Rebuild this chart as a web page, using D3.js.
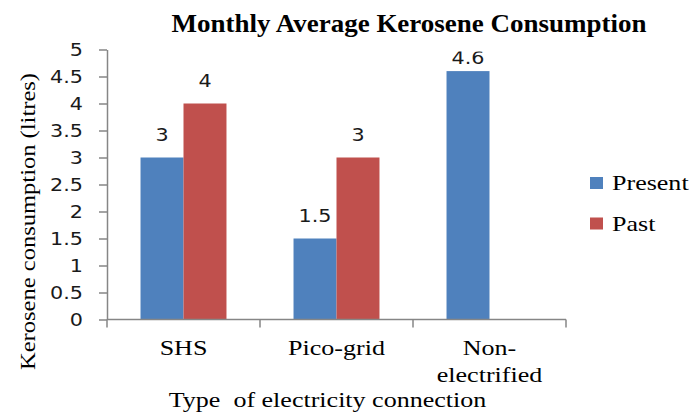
<!DOCTYPE html>
<html lang="en">

<head>
    <meta charset="UTF-8">
    <title>Monthly Average Kerosene Consumption</title>
    <script src="https://d3js.org/d3.v7.min.js"></script>
    <style>
        body {
            margin: 0;
            background: white;
        }
    </style>
</head>

<body>
    <svg width="692" height="414"></svg>

    <script>
        // chart data
        const categories = ["SHS", "Pico-grid", "Non-electrified"];
        const categoryLines = [["SHS"], ["Pico-grid"], ["Non-", "electrified"]];
        const seriesNames = ["Present", "Past"];
        const presentValues = [3, 1.5, 4.6];
        const pastValues = [4, 3, null];
        const yTicks = [0, 0.5, 1, 1.5, 2, 2.5, 3, 3.5, 4, 4.5, 5];
        const colors = ["#4F81BD", "#C0504D"];

        const serifFont = "'Liberation Serif', 'Times New Roman', serif";
        const numFont = "'DejaVu Sans', Verdana, sans-serif";
        // the original picture is a bit wider than the fonts are
        const serifStretch = 1.24, numStretch = 1.15;

        const svg = d3.select("svg");
        const plotLeft = 107, plotRight = 566, plotTop = 49.5, plotBottom = 319.5;

        const x0 = d3.scaleBand().domain(categories).range([plotLeft, plotRight]);
        const x1 = d3.scaleBand().domain(seriesNames)
            .range([0, x0.bandwidth()]).paddingOuter(0.78);
        const y = d3.scaleLinear().domain([0, 5]).range([plotBottom, plotTop]);
        const color = d3.scaleOrdinal().domain(seriesNames).range(colors);

        function place(x, yy, sx) {
            return "translate(" + x + "," + yy + ") scale(" + sx + ",1)";
        }

        const rows = [];
        categories.forEach(function (c, i) {
            rows.push({ cat: c, series: "Present", value: presentValues[i] });
            rows.push({ cat: c, series: "Past", value: pastValues[i] });
        });
        const shown = rows.filter(function (d) { return d.value != null; });

        // bars
        svg.append("g").selectAll("rect")
            .data(shown)
            .enter()
            .append("rect")
            .attr("x", function (d) { return x0(d.cat) + x1(d.series); })
            .attr("width", x1.bandwidth())
            .attr("y", function (d) { return y(d.value); })
            .attr("height", function (d) { return y(0) - y(d.value); })
            .attr("fill", function (d) { return color(d.series); });

        // y axis
        const yAxis = svg.append("g")
            .attr("transform", "translate(" + plotLeft + ",0)")
            .call(d3.axisLeft(y).tickValues(yTicks).tickSize(8).tickSizeOuter(0)
                .tickFormat(d3.format("")));
        yAxis.select(".domain").attr("stroke", "#868686").attr("stroke-width", 1.5);
        yAxis.selectAll(".tick line").attr("stroke", "#868686").attr("stroke-width", 1.5);
        yAxis.selectAll(".tick text")
            .style("font-family", numFont).style("font-size", "18px")
            .attr("fill", "#1a1a1a")
            .attr("x", 0).attr("dy", "0.36em")
            .attr("transform", place(-24, 0, numStretch));

        // x axis with ticks between categories
        const xAxis = svg.append("g").attr("transform", "translate(0," + plotBottom + ")");
        xAxis.append("line")
            .attr("x1", plotLeft).attr("x2", plotRight)
            .attr("stroke", "#868686").attr("stroke-width", 1.5);
        const bounds = categories.map(function (c) { return x0(c); }).concat([plotRight]);
        xAxis.selectAll(".btick")
            .data(bounds)
            .enter()
            .append("line")
            .attr("x1", function (d) { return d; })
            .attr("x2", function (d) { return d; })
            .attr("y1", 0).attr("y2", 8)
            .attr("stroke", "#868686").attr("stroke-width", 1.5);

        xAxis.selectAll(".cat")
            .data(categories)
            .enter()
            .append("text")
            .style("font-family", serifFont)
            .style("font-size", "21px")
            .attr("text-anchor", "middle")
            .attr("transform", function (c) { return place(x0(c) + x0.bandwidth() / 2, 35, serifStretch); })
            .each(function (c, i) {
                const t = d3.select(this);
                categoryLines[i].forEach(function (line, k) {
                    t.append("tspan")
                        .attr("x", 0)
                        .attr("y", k * 28)
                        .text(line);
                });
            });

        // data labels (kept inside the plot area)
        svg.append("defs").append("clipPath").attr("id", "plotClip")
            .append("rect").attr("x", 0).attr("y", plotTop + 2).attr("width", 692).attr("height", 400);
        svg.append("g").attr("clip-path", "url(#plotClip)")
            .selectAll("text")
            .data(shown)
            .enter()
            .append("text")
            .style("font-family", numFont)
            .style("font-size", "18px")
            .attr("fill", "#1a1a1a")
            .attr("text-anchor", "middle")
            .attr("transform", function (d) {
                const cx = x0(d.cat) + x1(d.series) + x1.bandwidth() / 2;
                const cy = Math.max(y(d.value) - 17, plotTop + 14);
                return place(cx, cy, numStretch);
            })
            .text(function (d) { return d.value; });

        // titles
        svg.append("text")
            .style("font-family", serifFont)
            .style("font-size", "25px")
            .style("font-weight", "bold")
            .attr("text-anchor", "middle")
            .attr("transform", place(409, 32, 1.08))
            .text("Monthly Average Kerosene Consumption");

        svg.append("text")
            .style("font-family", serifFont)
            .style("font-size", "22px")
            .attr("transform", "translate(35," + ((plotTop + plotBottom) / 2 + 37) + ") rotate(-90)")
            .attr("text-anchor", "middle")
            .attr("textLength", 297)
            .attr("lengthAdjust", "spacingAndGlyphs")
            .text("Kerosene consumption (litres)");

        svg.append("text")
            .style("font-family", serifFont)
            .style("font-size", "21px")
            .style("white-space", "pre")
            .attr("text-anchor", "middle")
            .attr("transform", place(327.5, 407, serifStretch))
            .text("Type  of electricity connection");

        // legend
        const legend = svg.append("g").selectAll("g")
            .data(seriesNames)
            .enter()
            .append("g")
            .attr("transform", function (d, i) { return "translate(590," + (177 + i * 40.5) + ")"; });
        legend.append("rect")
            .attr("width", 13).attr("height", 12)
            .attr("fill", function (d) { return color(d); });
        legend.append("text")
            .style("font-family", serifFont)
            .style("font-size", "21px")
            .attr("transform", place(22, 13, serifStretch))
            .text(function (d) { return d; });
    </script>
</body>

</html>
